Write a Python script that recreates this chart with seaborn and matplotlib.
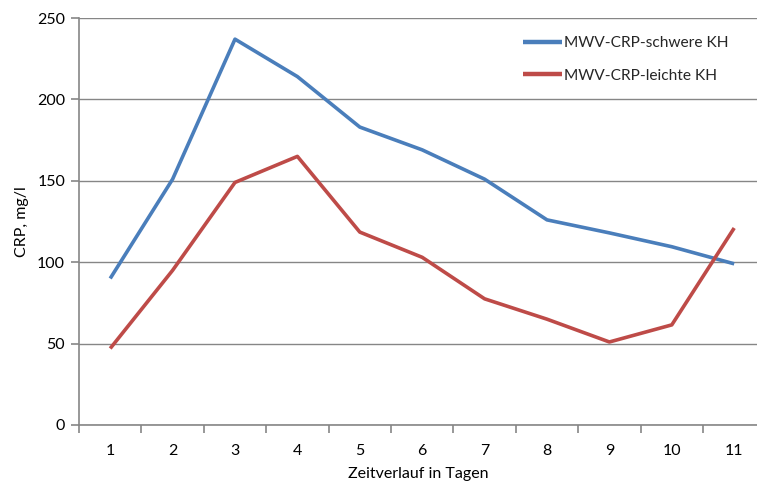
import matplotlib
matplotlib.use("Agg")
import matplotlib.pyplot as plt
import seaborn as sns
import pandas as pd
from matplotlib.ticker import FixedLocator, MultipleLocator

# Daily CRP values (mg/l) for the two groups
days = [1, 2, 3, 4, 5, 6, 7, 8, 9, 10, 11]
crp_schwer = [90, 151, 237, 214, 183, 169, 151, 126, 118, 109.5, 99]
crp_leicht = [47, 95, 149, 165, 118.5, 103, 77.5, 65, 51, 61.5, 121]
series_names = ["MWV-CRP-schwere KH", "MWV-CRP-leichte KH"]
series_colors = ["#4A7EBB", "#BE4B48"]

df = pd.DataFrame({
    "Tag": days * 2,
    "CRP": crp_schwer + crp_leicht,
    "Serie": [series_names[0]] * len(days) + [series_names[1]] * len(days),
})

sns.set_theme(style="white")
plt.rcParams["font.family"] = ["Lato", "DejaVu Sans"]

fig = plt.figure(figsize=(7.57, 4.84), dpi=100)
ax = fig.add_axes([79 / 757, 1 - 425 / 484, 1 - 79 / 757, (425 - 18) / 484])

sns.lineplot(data=df, x="Tag", y="CRP", hue="Serie", palette=series_colors,
             hue_order=series_names, linewidth=2.6, ax=ax, legend=True,
             solid_capstyle="butt")

grid_col = "#868686"
ax.set_ylim(0, 250)
ax.set_xlim(0.5, 0.5 + (757 - 79) / 62.4)
ax.yaxis.set_major_locator(MultipleLocator(50))
ax.set_xticks(days)
ax.set_xticklabels([str(d) for d in days])
ax.xaxis.set_minor_locator(FixedLocator([d - 0.5 for d in days] + [11.5]))

ax.grid(axis="y", color=grid_col, linewidth=1.0)
ax.set_axisbelow(True)
for side in ["top", "right"]:
    ax.spines[side].set_visible(False)
for side in ["left", "bottom"]:
    ax.spines[side].set_color(grid_col)
    ax.spines[side].set_linewidth(1.2)

ax.tick_params(axis="y", which="major", direction="out", length=6, width=1.2,
               color=grid_col, labelsize=11.5, pad=4, left=True, labelcolor="#000000")
ax.tick_params(axis="x", which="major", length=0, labelsize=11.5, pad=14,
               labelcolor="#000000")
ax.tick_params(axis="x", which="minor", direction="out", length=6, width=1.2,
               color=grid_col, bottom=True)

ax.set_xlabel("Zeitverlauf in Tagen", fontsize=11.5, color="#000000", labelpad=6)
ax.set_ylabel("CRP, mg/l", fontsize=11.5, color="#000000", labelpad=6)

leg = ax.legend(loc="upper left", bbox_to_anchor=(523 / 757, 1 - 36 / 484),
                bbox_transform=fig.transFigure, frameon=False, fontsize=11.2,
                handlelength=2.5, handletextpad=0.15, labelspacing=1.2,
                borderpad=0, borderaxespad=0)
for line in leg.get_lines():
    line.set_linewidth(3.2)

fig.savefig("out.png", dpi=100)
